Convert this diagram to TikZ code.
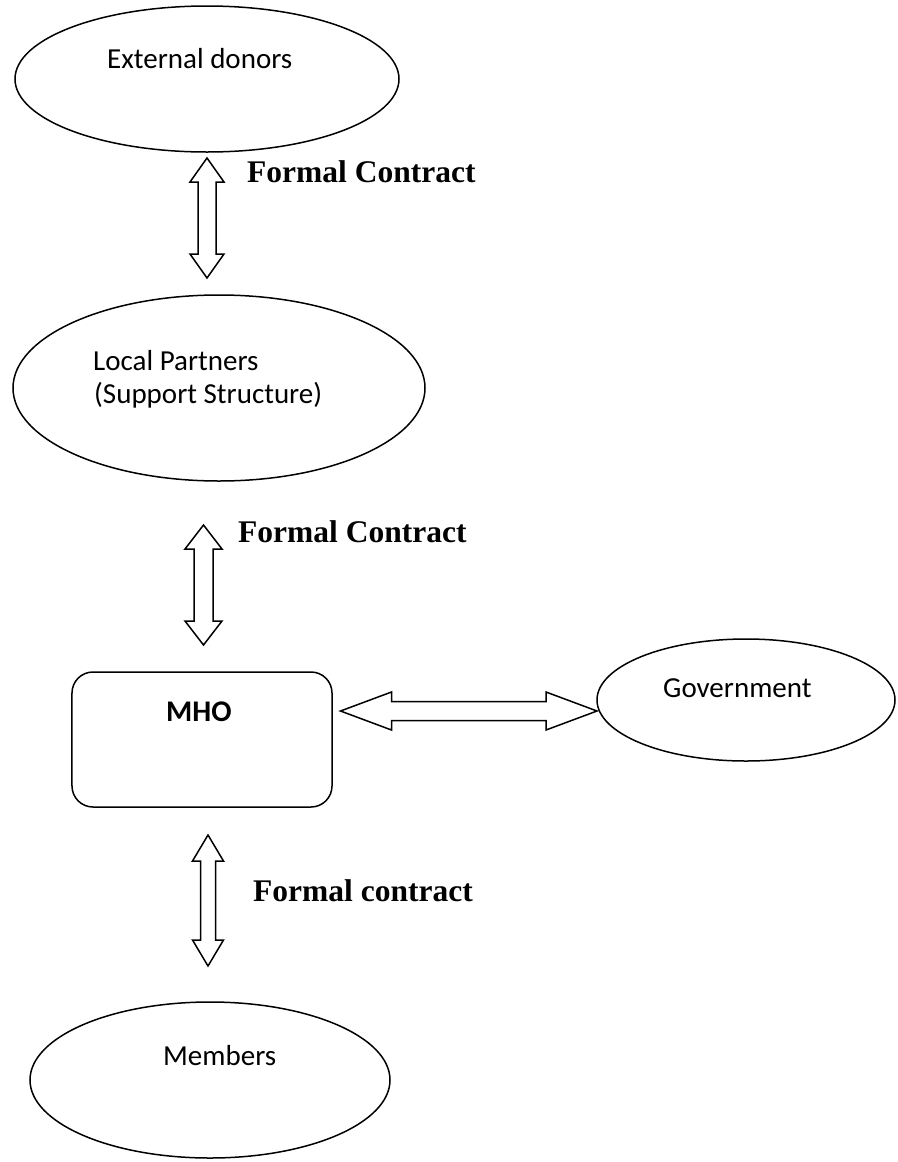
\documentclass[tikz,border=0pt]{standalone}
\usepackage{fontspec}
\setmainfont{Carlito}
\newfontfamily\tnrfont{Liberation Serif}
\usetikzlibrary{shapes.geometric}
% vertical double block arrow: centre x, top tip y, bottom tip y, shaft half, head half, head length
\newcommand\vdarrow[6]{%
  \draw[blk] (#1,#2) -- ({#1+#5},{#2+#6}) -- ({#1+#4},{#2+#6}) -- ({#1+#4},{#3-#6})
    -- ({#1+#5},{#3-#6}) -- (#1,#3) -- ({#1-#5},{#3-#6}) -- ({#1-#4},{#3-#6})
    -- ({#1-#4},{#2+#6}) -- ({#1-#5},{#2+#6}) -- cycle;}
% horizontal double block arrow: centre y, left tip x, right tip x, shaft half, head half, head length
\newcommand\hdarrow[6]{%
  \draw[blk] (#2,#1) -- ({#2+#6},{#1-#5}) -- ({#2+#6},{#1-#4}) -- ({#3-#6},{#1-#4})
    -- ({#3-#6},{#1-#5}) -- (#3,#1) -- ({#3-#6},{#1+#5}) -- ({#3-#6},{#1+#4})
    -- ({#2+#6},{#1+#4}) -- ({#2+#6},{#1+#5}) -- cycle;}
\tikzset{
  ell/.style={draw, ellipse, line width=1.5bp, inner sep=0},
  boxst/.style={draw, rectangle, rounded corners=21bp, line width=1.5bp, inner sep=0},
  blk/.style={draw, line width=1.5bp, line join=miter, fill=white},
  lbl/.style={inner sep=0, anchor=base west, font=\fontsize{29bp}{33bp}\selectfont},
  fc/.style={inner sep=0, anchor=base west, font=\tnrfont\bfseries\fontsize{31.5bp}{36bp}\selectfont}
}
\begin{document}
\begin{tikzpicture}[x=1bp,y=-1bp]
\useasboundingbox (0,0) rectangle (898,1162);
% shapes
\node[ell, minimum width=384bp, minimum height=146bp] (donors) at (207,79) {};
\node[ell, minimum width=412bp, minimum height=186bp] (partners) at (219,388) {};
\node[boxst, minimum width=260bp, minimum height=135bp] (mho) at (202,739.5) {};
\node[ell, minimum width=298bp, minimum height=122bp] (gov) at (746,700) {};
\node[ell, minimum width=360bp, minimum height=156bp] (members) at (210,1080) {};
% texts
\node[lbl] (tdonors) at (107,68) {External donors};
\node[lbl] (tlp1) at (93,370) {Local Partners};
\node[lbl] (tlp2) at (94,403) {(Support Structure)};
\node[lbl, font=\bfseries\fontsize{30bp}{34bp}\selectfont] (tmho) at (166,721) {MHO};
\node[lbl] (tgov) at (663,697) {Government};
\node[lbl] (tmem) at (163,1065) {Members};
% connectors
\coordinate (a1t) at (207,158); \coordinate (a1b) at (207,278);
\vdarrow{207}{158}{278}{9}{17}{24}
\coordinate (a2t) at (203.5,525); \coordinate (a2b) at (203.5,645);
\vdarrow{203.5}{525}{645}{9.5}{18.5}{24}
\coordinate (a3t) at (208,835); \coordinate (a3b) at (208,966);
\vdarrow{208}{835}{966}{7.5}{15.5}{26}
\coordinate (a4l) at (340.5,711); \coordinate (a4r) at (597,711);
\hdarrow{711}{340.5}{597}{9.5}{19}{51}
% labels
\node[fc] (fc1) at (247,182) {Formal Contract};
\node[fc] (fc2) at (238,542) {Formal Contract};
\node[fc] (fc3) at (253,901) {Formal contract};
\end{tikzpicture}
\end{document}
